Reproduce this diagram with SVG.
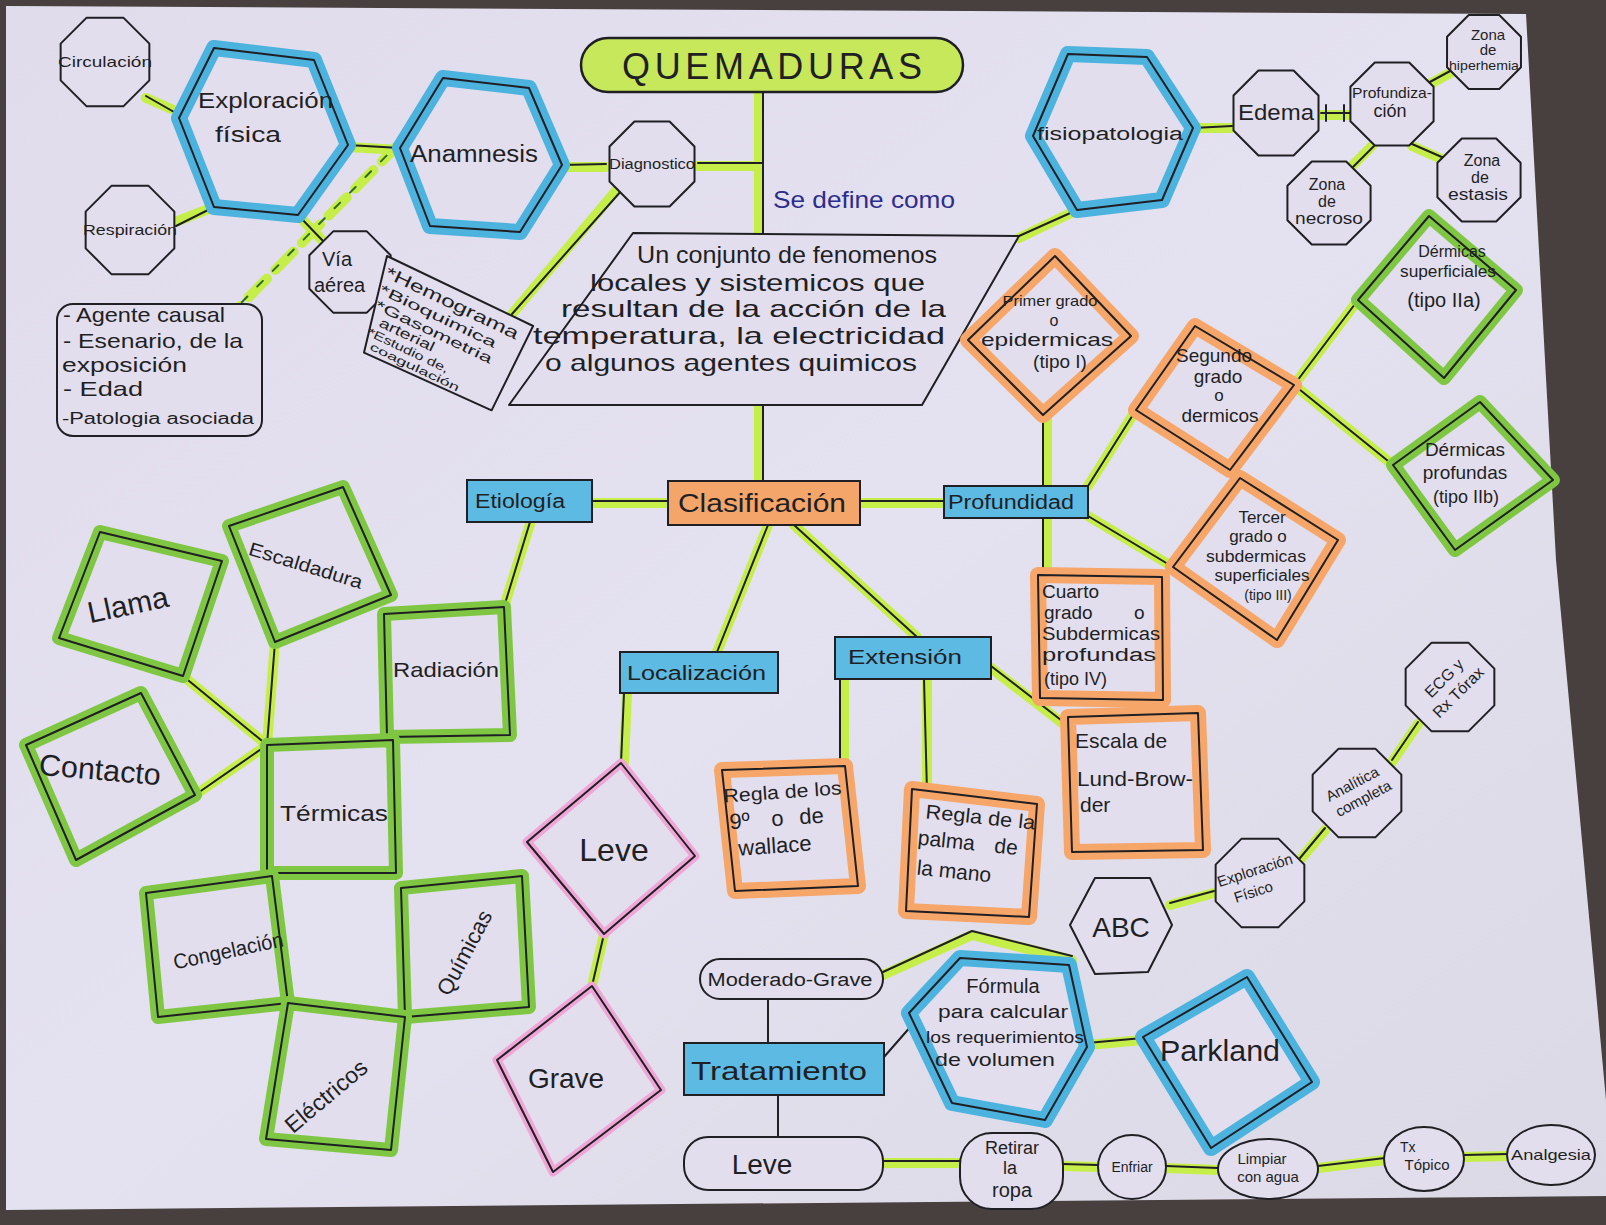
<svg xmlns="http://www.w3.org/2000/svg" xmlns:xlink="http://www.w3.org/1999/xlink" width="1606" height="1225" viewBox="0 0 1606 1225">
<style>
.ink{fill:none;stroke:#1f1f24;stroke-width:2;stroke-linejoin:round;stroke-linecap:round}
.lime{fill:none;stroke:#c6ee48;stroke-width:10;stroke-linecap:round;stroke-linejoin:round}
.nd{fill:#e2deee;stroke:#1f1f24;stroke-width:2;stroke-linejoin:round}
.hb{fill:#e2deee;stroke:#4cb2de;stroke-width:16;stroke-linejoin:round}
.ho{fill:#e2deee;stroke:#f5a668;stroke-width:16;stroke-linejoin:round}
.hg{fill:#e2deee;stroke:#7fc743;stroke-width:14;stroke-linejoin:round}
.hp{fill:#e2deee;stroke:#efa6d6;stroke-width:9;stroke-linejoin:round}
.bluebox{fill:#5cbae3;stroke:#1f1f24;stroke-width:2}
.t{font-family:"Liberation Sans",Arial,sans-serif;fill:#1f1f24}
.c{text-anchor:middle}
</style>
<defs>
<polygon id="oct" points="46.2,19.1 19.1,46.2 -19.1,46.2 -46.2,19.1 -46.2,-19.1 -19.1,-46.2 19.1,-46.2 46.2,-19.1" vector-effect="non-scaling-stroke"/>
<linearGradient id="pg" x1="0" y1="0" x2="1" y2="1">
<stop offset="0" stop-color="#e0dcec"/><stop offset="0.5" stop-color="#e4e1f0"/><stop offset="1" stop-color="#dcd9e6"/>
</linearGradient>
</defs>

<!-- background and paper -->
<rect x="0" y="0" width="1606" height="1225" fill="#47403f"/>
<polygon points="6,6 1526,14 1556,560 1606,1100 1606,1196 6,1210" fill="url(#pg)"/>

<!-- connectors -->
<g id="connectors">
<g class="lime">
<line x1="759" y1="92" x2="759" y2="235"/>
<line x1="698" y1="166" x2="759" y2="166"/>
<line x1="606" y1="167" x2="562" y2="167"/>
<line x1="620" y1="186" x2="512" y2="314"/>
<line x1="348" y1="147" x2="400" y2="150"/>
<line x1="146" y1="98" x2="183" y2="114"/>
<line x1="175" y1="222" x2="214" y2="207"/>
<line x1="298" y1="215" x2="322" y2="240"/>
<line x1="400" y1="143" x2="240" y2="306" stroke-dasharray="26 12"/>
<line x1="759" y1="405" x2="759" y2="481"/>
<line x1="592" y1="503" x2="668" y2="503"/>
<line x1="860" y1="503" x2="944" y2="503"/>
<line x1="1077" y1="210" x2="1019" y2="238"/>
<line x1="1193" y1="128" x2="1232" y2="128"/>
<line x1="1320" y1="115" x2="1350" y2="115"/>
<line x1="1428" y1="85" x2="1452" y2="72"/>
<line x1="1372" y1="146" x2="1348" y2="170"/>
<line x1="1412" y1="146" x2="1444" y2="160"/>
<line x1="1047" y1="415" x2="1047" y2="486"/>
<line x1="1088" y1="486" x2="1136" y2="410"/>
<line x1="1294" y1="385" x2="1358" y2="300"/>
<line x1="1294" y1="385" x2="1393" y2="465"/>
<line x1="1088" y1="516" x2="1173" y2="567"/>
<line x1="1047" y1="518" x2="1047" y2="575"/>
<line x1="768" y1="525" x2="717" y2="652"/>
<line x1="794" y1="525" x2="917" y2="637"/>
<line x1="627" y1="693" x2="624" y2="763"/>
<line x1="604" y1="934" x2="592" y2="986"/>
<line x1="530" y1="524" x2="504" y2="607"/>
<line x1="844" y1="679" x2="844" y2="768"/>
<line x1="927" y1="679" x2="927" y2="792"/>
<line x1="991" y1="668" x2="1070" y2="729"/>
<polyline points="883,975 972,935 1072,960"/>
<line x1="1087" y1="1045" x2="1143" y2="1040"/>
<line x1="883" y1="1163" x2="960" y2="1163"/>
<line x1="1063" y1="1166" x2="1098" y2="1167"/>
<line x1="1166" y1="1168" x2="1218" y2="1170"/>
<line x1="1318" y1="1168" x2="1385" y2="1160"/>
<line x1="1464" y1="1157" x2="1508" y2="1156"/>
<line x1="1170" y1="905" x2="1214" y2="893"/>
<line x1="1300" y1="860" x2="1325" y2="830"/>
<line x1="1392" y1="762" x2="1418" y2="724"/>
<line x1="183" y1="676" x2="267" y2="745"/>
<line x1="195" y1="795" x2="267" y2="745"/>
<line x1="275" y1="642" x2="267" y2="745"/>
</g>
<g class="ink">
<line x1="763" y1="92" x2="763" y2="235"/>
<line x1="698" y1="163" x2="763" y2="163"/>
<line x1="606" y1="164" x2="562" y2="165"/>
<line x1="622" y1="190" x2="512" y2="314"/>
<line x1="348" y1="145" x2="400" y2="148"/>
<line x1="146" y1="96" x2="181" y2="116"/>
<line x1="176" y1="226" x2="214" y2="207"/>
<line x1="298" y1="215" x2="324" y2="242"/>
<line x1="402" y1="140" x2="240" y2="304" stroke-dasharray="8 14" stroke="#2c6a26"/>
<line x1="763" y1="405" x2="763" y2="481"/>
<line x1="592" y1="501" x2="668" y2="501"/>
<line x1="860" y1="501" x2="944" y2="501"/>
<line x1="1077" y1="210" x2="1019" y2="236"/>
<line x1="1193" y1="128" x2="1232" y2="126"/>
<line x1="1321" y1="113" x2="1350" y2="113"/>
<line x1="1326" y1="105" x2="1326" y2="121"/>
<line x1="1344" y1="105" x2="1344" y2="121"/>
<line x1="1428" y1="83" x2="1452" y2="70"/>
<line x1="1374" y1="146" x2="1350" y2="170"/>
<line x1="1412" y1="144" x2="1444" y2="158"/>
<line x1="1043" y1="415" x2="1043" y2="486"/>
<line x1="1088" y1="486" x2="1136" y2="410"/>
<line x1="1294" y1="385" x2="1358" y2="300"/>
<line x1="1294" y1="385" x2="1393" y2="465"/>
<line x1="1088" y1="516" x2="1173" y2="567"/>
<line x1="1043" y1="518" x2="1043" y2="575"/>
<line x1="768" y1="525" x2="717" y2="652"/>
<line x1="794" y1="525" x2="917" y2="637"/>
<line x1="624" y1="693" x2="621" y2="763"/>
<line x1="604" y1="934" x2="592" y2="986"/>
<line x1="530" y1="522" x2="504" y2="607"/>
<line x1="840" y1="679" x2="840" y2="768"/>
<line x1="924" y1="679" x2="927" y2="792"/>
<line x1="991" y1="666" x2="1070" y2="727"/>
<polyline points="883,972 972,931 1072,956"/>
<line x1="768" y1="999" x2="768" y2="1043"/>
<line x1="778" y1="1095" x2="778" y2="1137"/>
<line x1="884" y1="1057" x2="912" y2="1025"/>
<line x1="1087" y1="1043" x2="1143" y2="1038"/>
<line x1="883" y1="1161" x2="960" y2="1161"/>
<line x1="1063" y1="1164" x2="1098" y2="1165"/>
<line x1="1166" y1="1166" x2="1218" y2="1168"/>
<line x1="1318" y1="1166" x2="1385" y2="1158"/>
<line x1="1464" y1="1155" x2="1508" y2="1154"/>
<line x1="1170" y1="903" x2="1214" y2="891"/>
<line x1="1300" y1="858" x2="1325" y2="828"/>
<line x1="1392" y1="760" x2="1418" y2="722"/>
<line x1="183" y1="676" x2="267" y2="745"/>
<line x1="195" y1="795" x2="267" y2="745"/>
<line x1="275" y1="642" x2="267" y2="745"/>
</g>
</g>

<!-- title -->
<g id="n-quemaduras">
<rect x="581" y="38" width="382" height="54" rx="27" fill="#c6e85a" stroke="#1f1f24" stroke-width="2.5"/>
<text class="t c" x="772" y="79" font-size="36" textLength="300" lengthAdjust="spacing">QUEMADURAS</text>
</g>
<g id="n-sedefine">
<text class="t" x="773" y="208" font-size="24" style="fill:#2d2d8c" textLength="182" lengthAdjust="spacingAndGlyphs">Se define como</text>
</g>
<g id="n-definicion">
<polygon class="nd" points="633,233 1019,236 922,405 509,405"/>
<text class="t" x="637" y="263" font-size="24" textLength="300" lengthAdjust="spacingAndGlyphs">Un conjunto de fenomenos</text>
<text class="t" x="590" y="291" font-size="24" textLength="335" lengthAdjust="spacingAndGlyphs">locales y sistemicos que</text>
<text class="t" x="561" y="317" font-size="24" textLength="385" lengthAdjust="spacingAndGlyphs">resultan de la acción de la</text>
<text class="t" x="533" y="344" font-size="24" textLength="412" lengthAdjust="spacingAndGlyphs">temperatura, la electricidad</text>
<text class="t" x="545" y="371" font-size="24" textLength="372" lengthAdjust="spacingAndGlyphs">o algunos agentes quimicos</text>
</g>

<!-- left top cluster -->
<g id="n-exploracion">
<polygon class="hb" points="214,48 314,60 348,145 298,215 214,207 179,118"/>
<polygon class="nd" style="fill:none" points="214,48 314,60 348,145 298,215 214,207 179,118"/>
<text class="t" x="198" y="108" font-size="22" textLength="135" lengthAdjust="spacingAndGlyphs">Exploración</text>
<text class="t" x="215" y="142" font-size="22" textLength="66" lengthAdjust="spacingAndGlyphs">física</text>
</g>
<g id="n-anamnesis">
<polygon class="hb" points="443,78 529,88 562,165 520,232 430,226 400,148"/>
<polygon class="nd" style="fill:none" points="443,78 529,88 562,165 520,232 430,226 400,148"/>
<text class="t" x="410" y="162" font-size="23" textLength="128" lengthAdjust="spacingAndGlyphs">Anamnesis</text>
</g>
<g id="n-circulacion">
<use href="#oct" class="nd" transform="translate(105,62) scale(0.96)"/>
<text class="t c" x="105" y="67" font-size="15" textLength="94" lengthAdjust="spacingAndGlyphs">Circulación</text>
</g>
<g id="n-respiracion">
<use href="#oct" class="nd" transform="translate(130,230) scale(0.96)"/>
<text class="t c" x="130" y="235" font-size="15" textLength="94" lengthAdjust="spacingAndGlyphs">Respiración</text>
</g>
<g id="n-viaaerea">
<use href="#oct" class="nd" transform="translate(350,272) scale(0.88)"/>
<text class="t" x="322" y="266" font-size="20">Vía</text>
<text class="t" x="314" y="292" font-size="20">aérea</text>
</g>
<g id="n-diagnostico">
<use href="#oct" class="nd" transform="translate(652,164) scale(0.92)"/>
<text class="t c" x="652" y="169" font-size="14" textLength="86" lengthAdjust="spacingAndGlyphs">Diagnostico</text>
</g>
<g id="n-agente">
<rect class="nd" x="57" y="304" width="205" height="132" rx="16"/>
<text class="t" x="63" y="322" font-size="21" textLength="162" lengthAdjust="spacingAndGlyphs">- Agente causal</text>
<text class="t" x="63" y="348" font-size="21" textLength="180" lengthAdjust="spacingAndGlyphs">- Esenario, de la</text>
<text class="t" x="62" y="372" font-size="21" textLength="125" lengthAdjust="spacingAndGlyphs">exposición</text>
<text class="t" x="63" y="396" font-size="21" textLength="80" lengthAdjust="spacingAndGlyphs">- Edad</text>
<text class="t" x="62" y="424" font-size="16" textLength="192" lengthAdjust="spacingAndGlyphs">-Patologia asociada</text>
</g>
<g id="n-hemograma" transform="translate(387,256) rotate(25.6)">
<polygon class="nd" points="0,0 162,0 161,94 21,97"/>
<text class="t" x="6" y="20" font-size="17" textLength="146" lengthAdjust="spacingAndGlyphs">*Hemograma</text>
<text class="t" x="8" y="37" font-size="14" textLength="128" lengthAdjust="spacingAndGlyphs">*Bioquimica</text>
<text class="t" x="11" y="53" font-size="14" textLength="128" lengthAdjust="spacingAndGlyphs">*Gasometria</text>
<text class="t" x="22" y="67" font-size="14" textLength="60" lengthAdjust="spacingAndGlyphs">arterial</text>
<text class="t" x="16" y="80" font-size="12" textLength="88" lengthAdjust="spacingAndGlyphs">*Estudio de,</text>
<text class="t" x="24" y="92" font-size="11" textLength="98" lengthAdjust="spacingAndGlyphs">coagulación</text>
</g>

<!-- right top cluster -->
<g id="n-fisiopatologia">
<polygon class="hb" points="1068,54 1147,57 1193,128 1162,200 1077,210 1033,136"/>
<polygon class="nd" style="fill:none" points="1068,54 1147,57 1193,128 1162,200 1077,210 1033,136"/>
<text class="t" x="1037" y="140" font-size="18" textLength="146" lengthAdjust="spacingAndGlyphs">fisiopatologia</text>
</g>
<g id="n-edema">
<use href="#oct" class="nd" transform="translate(1276,113) scale(0.92)"/>
<text class="t c" x="1276" y="120" font-size="22" textLength="76" lengthAdjust="spacingAndGlyphs">Edema</text>
</g>
<g id="n-profundizacion">
<use href="#oct" class="nd" transform="translate(1392,104) scale(0.9)"/>
<text class="t c" x="1392" y="98" font-size="15" textLength="80" lengthAdjust="spacingAndGlyphs">Profundiza-</text>
<text class="t c" x="1390" y="117" font-size="18">ción</text>
</g>
<g id="n-hiperhemia">
<use href="#oct" class="nd" transform="translate(1484,52) scale(0.8)"/>
<text class="t c" x="1488" y="40" font-size="15">Zona</text>
<text class="t c" x="1488" y="55" font-size="15">de</text>
<text class="t c" x="1484" y="70" font-size="13" textLength="70" lengthAdjust="spacingAndGlyphs">hiperhemia</text>
</g>
<g id="n-estasis">
<use href="#oct" class="nd" transform="translate(1479,180) scale(0.9)"/>
<text class="t c" x="1482" y="166" font-size="16">Zona</text>
<text class="t c" x="1480" y="183" font-size="16">de</text>
<text class="t c" x="1478" y="200" font-size="16" textLength="60" lengthAdjust="spacingAndGlyphs">estasis</text>
</g>
<g id="n-necrosis">
<use href="#oct" class="nd" transform="translate(1329,203) scale(0.9)"/>
<text class="t c" x="1327" y="190" font-size="16">Zona</text>
<text class="t c" x="1327" y="207" font-size="16">de</text>
<text class="t c" x="1329" y="224" font-size="16" textLength="68" lengthAdjust="spacingAndGlyphs">necroso</text>
</g>

<!-- profundidad branch -->
<g id="n-primer">
<polygon class="ho" points="1055,256 1131,336 1043,415 968,340"/>
<polygon class="nd" style="fill:none" points="1055,256 1131,336 1043,415 968,340"/>
<text class="t c" x="1050" y="306" font-size="15" textLength="95" lengthAdjust="spacingAndGlyphs">Primer grado</text>
<text class="t c" x="1054" y="326" font-size="16">o</text>
<text class="t c" x="1047" y="346" font-size="19" textLength="132" lengthAdjust="spacingAndGlyphs">epidermicas</text>
<text class="t c" x="1060" y="368" font-size="19">(tipo I)</text>
</g>
<g id="n-segundo">
<polygon class="ho" points="1195,326 1294,385 1230,470 1136,410"/>
<polygon class="nd" style="fill:none" points="1195,326 1294,385 1230,470 1136,410"/>
<text class="t c" x="1214" y="362" font-size="19">Segundo</text>
<text class="t c" x="1218" y="383" font-size="19">grado</text>
<text class="t c" x="1219" y="401" font-size="17">o</text>
<text class="t c" x="1220" y="422" font-size="19">dermicos</text>
</g>
<g id="n-tercer">
<polygon class="ho" points="1240,478 1338,540 1277,640 1173,567"/>
<polygon class="nd" style="fill:none" points="1240,478 1338,540 1277,640 1173,567"/>
<text class="t c" x="1262" y="523" font-size="17">Tercer</text>
<text class="t c" x="1258" y="542" font-size="17">grado o</text>
<text class="t c" x="1256" y="562" font-size="17" textLength="100" lengthAdjust="spacingAndGlyphs">subdermicas</text>
<text class="t c" x="1262" y="581" font-size="16" textLength="95" lengthAdjust="spacingAndGlyphs">superficiales</text>
<text class="t c" x="1268" y="600" font-size="14">(tipo III)</text>
</g>
<g id="n-cuarto">
<polygon class="ho" points="1038,575 1162,577 1163,700 1040,698"/>
<polygon class="nd" style="fill:none" points="1038,575 1162,577 1163,700 1040,698"/>
<text class="t" x="1042" y="598" font-size="19">Cuarto</text>
<text class="t" x="1044" y="619" font-size="19">grado <tspan x="1134">o</tspan></text>
<text class="t" x="1042" y="640" font-size="18" textLength="118" lengthAdjust="spacingAndGlyphs">Subdermicas</text>
<text class="t" x="1042" y="661" font-size="18" textLength="114" lengthAdjust="spacingAndGlyphs">profundas</text>
<text class="t" x="1044" y="685" font-size="18">(tipo IV)</text>
</g>
<g id="n-dermsup">
<polygon class="hg" points="1429,216 1516,290 1444,378 1358,300"/>
<polygon class="nd" style="fill:none" points="1429,216 1516,290 1444,378 1358,300"/>
<text class="t c" x="1452" y="257" font-size="16">Dérmicas</text>
<text class="t c" x="1448" y="277" font-size="16" textLength="96" lengthAdjust="spacingAndGlyphs">superficiales</text>
<text class="t c" x="1444" y="307" font-size="20">(tipo IIa)</text>
</g>
<g id="n-dermprof">
<polygon class="hg" points="1480,402 1553,480 1455,550 1393,465"/>
<polygon class="nd" style="fill:none" points="1480,402 1553,480 1455,550 1393,465"/>
<text class="t c" x="1465" y="456" font-size="19">Dérmicas</text>
<text class="t c" x="1465" y="479" font-size="19">profundas</text>
<text class="t c" x="1466" y="503" font-size="18">(tipo IIb)</text>
</g>

<!-- classification boxes -->
<g id="n-clasificacion">
<rect x="668" y="481" width="192" height="44" fill="#f4a56a" stroke="#1f1f24" stroke-width="2"/>
<text class="t c" x="762" y="512" font-size="26" textLength="168" lengthAdjust="spacingAndGlyphs">Clasificación</text>
</g>
<g id="n-etiologia">
<rect class="bluebox" x="467" y="480" width="125" height="42"/>
<text class="t c" x="520" y="508" font-size="20" textLength="90" lengthAdjust="spacingAndGlyphs">Etiología</text>
</g>
<g id="n-profundidad">
<rect class="bluebox" x="944" y="486" width="144" height="32"/>
<text class="t" x="948" y="509" font-size="20" textLength="126" lengthAdjust="spacingAndGlyphs">Profundidad</text>
</g>
<g id="n-localizacion">
<rect class="bluebox" x="620" y="652" width="158" height="41"/>
<text class="t" x="627" y="680" font-size="20" textLength="139" lengthAdjust="spacingAndGlyphs">Localización</text>
</g>
<g id="n-extension">
<rect class="bluebox" x="835" y="637" width="156" height="42"/>
<text class="t" x="848" y="664" font-size="21" textLength="114" lengthAdjust="spacingAndGlyphs">Extensión</text>
</g>

<!-- localizacion -->
<g id="n-leve-loc">
<polygon class="hp" points="621,763 695,856 604,934 527,842"/>
<polygon class="nd" style="fill:none" points="621,763 695,856 604,934 527,842"/>
<text class="t c" x="614" y="861" font-size="32">Leve</text>
</g>
<g id="n-grave">
<polygon class="hp" points="592,986 661,1090 553,1172 497,1060"/>
<polygon class="nd" style="fill:none" points="592,986 661,1090 553,1172 497,1060"/>
<text class="t c" x="566" y="1088" font-size="28">Grave</text>
</g>

<!-- extension -->
<g id="n-regla9">
<polygon class="ho" points="722,770 845,766 858,886 735,891"/>
<polygon class="nd" style="fill:none" points="722,770 845,766 858,886 735,891"/>
<g transform="rotate(-4 790 828)">
<text class="t" x="726" y="798" font-size="19" textLength="118" lengthAdjust="spacingAndGlyphs">Regla de los</text>
<text class="t" x="730" y="825" font-size="22">9º <tspan x="772">o</tspan> <tspan x="800">de</tspan></text>
<text class="t" x="737" y="852" font-size="22">wallace</text>
</g>
</g>
<g id="n-palma">
<polygon class="ho" points="912,789 1037,804 1029,917 906,911"/>
<polygon class="nd" style="fill:none" points="912,789 1037,804 1029,917 906,911"/>
<g transform="rotate(6 970 850)">
<text class="t" x="922" y="823" font-size="20" textLength="110" lengthAdjust="spacingAndGlyphs">Regla de la</text>
<text class="t" x="917" y="850" font-size="21">palma <tspan x="994">de</tspan></text>
<text class="t" x="919" y="880" font-size="21">la mano</text>
</g>
</g>
<g id="n-lund">
<polygon class="ho" points="1068,717 1198,713 1203,850 1072,852"/>
<polygon class="nd" style="fill:none" points="1068,717 1198,713 1203,850 1072,852"/>
<text class="t" x="1075" y="748" font-size="21">Escala de</text>
<text class="t" x="1077" y="786" font-size="21" textLength="116" lengthAdjust="spacingAndGlyphs">Lund-Brow-</text>
<text class="t" x="1080" y="812" font-size="21">der</text>
</g>

<!-- etiologia cluster -->
<g id="n-llama">
<polygon class="hg" points="100,532 222,561 183,676 59,638"/>
<polygon class="nd" style="fill:none" points="100,532 222,561 183,676 59,638"/>
<text class="t c" x="128" y="615" font-size="30" transform="rotate(-12 128 605)">Llama</text>
</g>
<g id="n-escaldadura">
<polygon class="hg" points="229,526 343,487 391,595 275,642"/>
<polygon class="nd" style="fill:none" points="229,526 343,487 391,595 275,642"/>
<text class="t c" x="306" y="572" font-size="19" transform="rotate(17 306 565)" textLength="118" lengthAdjust="spacingAndGlyphs">Escaldadura</text>
</g>
<g id="n-radiacion">
<polygon class="hg" points="384,614 504,607 510,735 387,737"/>
<polygon class="nd" style="fill:none" points="384,614 504,607 510,735 387,737"/>
<text class="t c" x="446" y="677" font-size="21" textLength="106" lengthAdjust="spacingAndGlyphs">Radiación</text>
</g>
<g id="n-contacto">
<polygon class="hg" points="26,745 141,693 195,795 76,860"/>
<polygon class="nd" style="fill:none" points="26,745 141,693 195,795 76,860"/>
<text class="t c" x="100" y="780" font-size="30" transform="rotate(5 100 770)" textLength="122" lengthAdjust="spacingAndGlyphs">Contacto</text>
</g>
<g id="n-termicas">
<polygon class="hg" points="267,745 393,740 396,873 267,873"/>
<polygon class="nd" style="fill:none" points="267,745 393,740 396,873 267,873"/>
<text class="t c" x="334" y="821" font-size="22" textLength="108" lengthAdjust="spacingAndGlyphs">Térmicas</text>
</g>
<g id="n-congelacion">
<polygon class="hg" points="146,893 272,876 288,1003 158,1017"/>
<polygon class="nd" style="fill:none" points="146,893 272,876 288,1003 158,1017"/>
<text class="t c" x="228" y="958" font-size="21" transform="rotate(-12 228 950)" textLength="112" lengthAdjust="spacingAndGlyphs">Congelación</text>
</g>
<g id="n-quimicas">
<polygon class="hg" points="401,888 522,876 529,1007 405,1017"/>
<polygon class="nd" style="fill:none" points="401,888 522,876 529,1007 405,1017"/>
<text class="t c" x="465" y="960" font-size="22" transform="rotate(-62 465 953)">Químicas</text>
</g>
<g id="n-electricos">
<polygon class="hg" points="288,1003 405,1017 391,1150 266,1139"/>
<polygon class="nd" style="fill:none" points="288,1003 405,1017 391,1150 266,1139"/>
<text class="t c" x="326" y="1104" font-size="23" transform="rotate(-40 326 1096)">Eléctricos</text>
</g>

<!-- tratamiento -->
<g id="n-moderado">
<rect class="nd" x="700" y="959" width="183" height="40" rx="20"/>
<text class="t c" x="790" y="986" font-size="18" textLength="165" lengthAdjust="spacingAndGlyphs">Moderado-Grave</text>
</g>
<g id="n-tratamiento">
<rect class="bluebox" x="684" y="1043" width="200" height="52"/>
<text class="t c" x="779" y="1080" font-size="26" textLength="176" lengthAdjust="spacingAndGlyphs">Tratamiento</text>
</g>
<g id="n-leve-trat">
<rect class="nd" x="684" y="1137" width="199" height="53" rx="24"/>
<text class="t c" x="762" y="1174" font-size="28">Leve</text>
</g>
<g id="n-formula">
<polygon class="hb" points="960,958 1069,965 1087,1047 1045,1120 952,1103 909,1013"/>
<polygon class="nd" style="fill:none" points="960,958 1069,965 1087,1047 1045,1120 952,1103 909,1013"/>
<text class="t c" x="1003" y="993" font-size="20">Fórmula</text>
<text class="t c" x="1003" y="1018" font-size="18" textLength="130" lengthAdjust="spacingAndGlyphs">para calcular</text>
<text class="t c" x="1005" y="1043" font-size="17" textLength="158" lengthAdjust="spacingAndGlyphs">los requerimientos</text>
<text class="t c" x="995" y="1066" font-size="19" textLength="120" lengthAdjust="spacingAndGlyphs">de volumen</text>
</g>
<g id="n-parkland">
<polygon class="hb" points="1247,977 1312,1082 1211,1148 1143,1037"/>
<polygon class="nd" style="fill:none" points="1247,977 1312,1082 1211,1148 1143,1037"/>
<text class="t c" x="1220" y="1061" font-size="30" textLength="120" lengthAdjust="spacingAndGlyphs">Parkland</text>
</g>
<g id="n-abc">
<polygon class="nd" points="1095,878 1150,878 1172,925 1148,972 1095,974 1070,925"/>
<text class="t c" x="1121" y="937" font-size="28">ABC</text>
</g>
<g id="n-explorfis">
<use href="#oct" class="nd" transform="translate(1260,883) scale(0.96)"/>
<g transform="rotate(-18 1258 880)">
<text class="t c" x="1258" y="875" font-size="15">Exploración</text>
<text class="t c" x="1250" y="895" font-size="15">Físico</text>
</g>
</g>
<g id="n-analitica">
<use href="#oct" class="nd" transform="translate(1357,793) scale(0.96)"/>
<g transform="rotate(-28 1357 793)">
<text class="t c" x="1357" y="788" font-size="15">Analítica</text>
<text class="t c" x="1360" y="806" font-size="15">completa</text>
</g>
</g>
<g id="n-ecg">
<use href="#oct" class="nd" transform="translate(1450,687) scale(0.96)"/>
<g transform="rotate(-45 1450 687)">
<text class="t c" x="1452" y="682" font-size="16">ECG y</text>
<text class="t c" x="1452" y="702" font-size="16">Rx Tórax</text>
</g>
</g>
<g id="n-retirar">
<rect class="nd" x="960" y="1133" width="103" height="76" rx="32"/>
<text class="t c" x="1012" y="1154" font-size="18">Retirar</text>
<text class="t c" x="1010" y="1174" font-size="18">la</text>
<text class="t c" x="1012" y="1197" font-size="20">ropa</text>
</g>
<g id="n-enfriar">
<ellipse class="nd" cx="1132" cy="1167" rx="34" ry="32"/>
<text class="t c" x="1132" y="1172" font-size="14">Enfriar</text>
</g>
<g id="n-limpiar">
<ellipse class="nd" cx="1268" cy="1169" rx="50" ry="30"/>
<text class="t c" x="1262" y="1164" font-size="15">Limpiar</text>
<text class="t c" x="1268" y="1182" font-size="15">con agua</text>
</g>
<g id="n-tx">
<ellipse class="nd" cx="1424" cy="1159" rx="40" ry="32"/>
<text class="t" x="1400" y="1152" font-size="14">Tx</text>
<text class="t c" x="1427" y="1170" font-size="15">Tópico</text>
</g>
<g id="n-analgesia">
<ellipse class="nd" cx="1551" cy="1155" rx="44" ry="30"/>
<text class="t c" x="1551" y="1160" font-size="15" textLength="80" lengthAdjust="spacingAndGlyphs">Analgesia</text>
</g>
</svg>
